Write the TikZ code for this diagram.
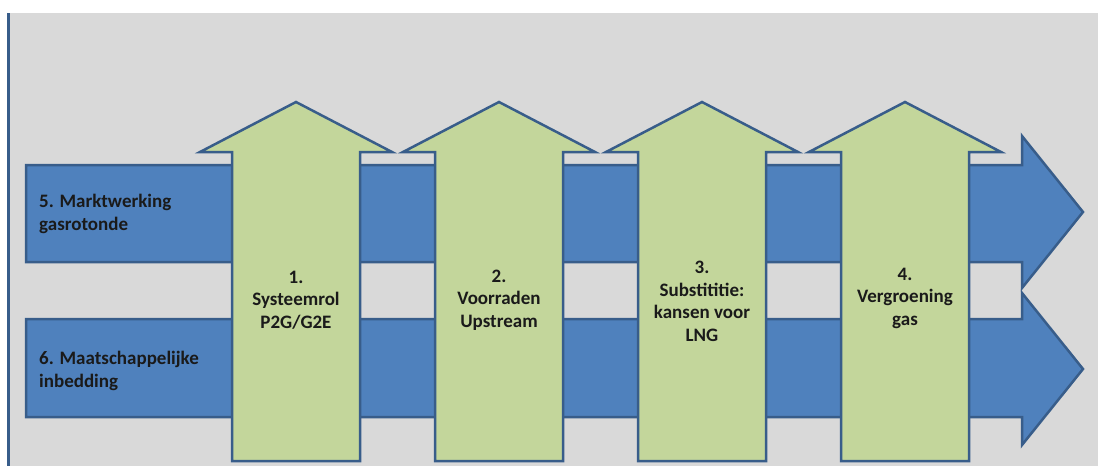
\documentclass[tikz,border=0pt]{standalone}
\usepackage{fontspec}
\setmainfont{Carlito}
\definecolor{bgGrey}{HTML}{D9D9D9}
\definecolor{arrBlue}{HTML}{4F81BD}
\definecolor{arrEdge}{HTML}{385D8A}
\definecolor{arrGreen}{HTML}{C3D69B}
\definecolor{txt}{HTML}{1A1A1A}
\tikzset{
  bluearrow/.style={fill=arrBlue, draw=arrEdge, line width=2.5pt, line join=miter},
  greenarrow/.style={fill=arrGreen, draw=arrEdge, line width=2.5pt, line join=miter},
  lbl/.style={inner sep=0pt, text=txt, font=\bfseries\fontsize{19}{22.5}\selectfont},
}
\begin{document}
\begin{tikzpicture}[x=1pt,y=-1pt]
\useasboundingbox (0,0) rectangle (1098,466);
\fill[white] (0,0) rectangle (1098,466);
\fill[bgGrey] (8,13) rectangle (1098,466);
\draw[arrEdge, line width=3.3pt] (8.4,13) -- (8.4,466);
% horizontal blue arrows
\draw[bluearrow] (26,165) -- (1022,165) -- (1022,136) -- (1083,212) -- (1022,288) -- (1022,262) -- (26,262) -- cycle;
\draw[bluearrow] (26,319) -- (1022,319) -- (1022,293) -- (1083,369) -- (1022,445) -- (1022,417) -- (26,417) -- cycle;
% vertical green arrows
\foreach \x in {232,435,638,841}{
  \draw[greenarrow] (\x,461) -- (\x,152) -- ({\x-32},152) -- ({\x+64},102) -- ({\x+160},152) -- ({\x+128},152) -- ({\x+128},461) -- cycle;
}
% labels
\node[lbl, anchor=base west, align=left] (m5) at (39,230) {5. Marktwerking\\gasrotonde};
\node[lbl, anchor=base west, align=left] (m6) at (39,387) {6. Maatschappelijke\\inbedding};
\node[lbl, anchor=base, align=center] (g1) at (296,328) {1.\\Systeemrol\\P2G/G2E};
\node[lbl, anchor=base, align=center] (g2) at (499,327) {2.\\Voorraden\\Upstream};
\node[lbl, anchor=base, align=center] (g3) at (702,341) {3.\\Substititie:\\kansen voor\\LNG};
\node[lbl, anchor=base, align=center] (g4) at (905,325) {4.\\Vergroening\\gas};
\end{tikzpicture}
\end{document}
